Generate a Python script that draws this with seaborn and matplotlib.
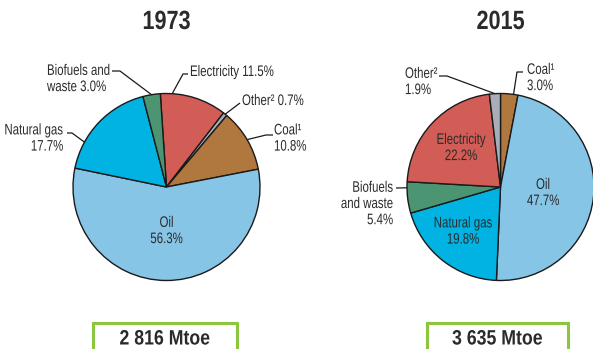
import numpy as np
import matplotlib
matplotlib.use("Agg")
import matplotlib.pyplot as plt
from matplotlib.patches import Rectangle
from matplotlib.patheffects import AbstractPathEffect
from matplotlib.transforms import Affine2D
import seaborn as sns

# Shares of world total final consumption by fuel (%)
fuels_1973 = ["Electricity", "Other²", "Coal¹", "Oil", "Natural gas", "Biofuels and waste"]
shares_1973 = [11.5, 0.7, 10.8, 56.3, 17.7, 3.0]

fuels_2015 = ["Coal¹", "Oil", "Natural gas", "Biofuels and waste", "Electricity", "Other²"]
shares_2015 = [3.0, 47.7, 19.8, 5.4, 22.2, 1.9]

years = ["1973", "2015"]
totals = ["2 816 Mtoe", "3 635 Mtoe"]

fuel_colors = {
    "Oil": "#86C5E6",
    "Natural gas": "#00B3E3",
    "Coal¹": "#B0773F",
    "Electricity": "#D25C56",
    "Biofuels and waste": "#4C9572",
    "Other²": "#A8AEB8",
}

sns.set_theme(style="white")
plt.rcParams["font.family"] = ["Liberation Sans", "DejaVu Sans"]

W, H = 593, 349
fig = plt.figure(figsize=(W / 100, H / 100), dpi=100)
ax = fig.add_axes([0, 0, 1, 1])
ax.set_xlim(0, W)
ax.set_ylim(0, H)
ax.set_aspect("equal")
ax.axis("off")
renderer = fig.canvas.get_renderer()

R = 93.5
centers = [(166.5, H - 187), (500.5, H - 187)]
starts = [93.8, 90.0]
TXT = "#2b2b2b"
FS = 11


class Condense(AbstractPathEffect):
    """Narrow the glyphs horizontally about a fixed display x."""

    def __init__(self, sx, x0):
        super().__init__()
        self.sx, self.x0 = sx, x0

    def draw_path(self, renderer, gc, tpath, affine, rgbFace=None):
        squeeze = Affine2D().translate(-self.x0, 0).scale(self.sx, 1).translate(self.x0, 0)
        renderer.draw_path(gc, tpath, affine + squeeze, rgbFace)


def text(x, y, s, ha="left", size=FS, weight="normal", sx=0.75, ls=1.2):
    t = ax.text(x, H - y, s, ha=ha, va="center", fontsize=size, color=TXT,
                fontweight=weight, linespacing=ls, multialignment=ha, zorder=6)
    if ha == "right":
        # anchor on the left so the condensed block ends at x
        w = t.get_window_extent(renderer).width
        x = x - sx * w
        t.set_x(x)
        t.set_ha("left")
    px = ax.transData.transform((x, 0))[0]
    t.set_path_effects([Condense(sx, px)])
    return t


def draw_pie(center, shares, fuels, start):
    ax.pie(shares, colors=[fuel_colors[f] for f in fuels], startangle=start,
           counterclock=False, center=center, radius=R, frame=True,
           wedgeprops=dict(edgecolor="#1a1a1a", linewidth=1.0))
    # wedge boundary angles, clockwise from the start angle
    return start - np.concatenate([[0], np.cumsum(shares)]) * 3.6


def leader(center, ang, pts):
    a = np.deg2rad(ang)
    ex, ey = center[0] + R * np.cos(a), center[1] + R * np.sin(a)
    xs = [p[0] for p in pts] + [ex]
    ys = [H - p[1] for p in pts] + [ey]
    ax.plot(xs, ys, color="#1a1a1a", lw=0.9, solid_capstyle="butt", zorder=5)


# ---- 1973 ----
c = centers[0]
b = draw_pie(c, shares_1973, fuels_1973, starts[0])
mid = lambda i: (b[i] + b[i + 1]) / 2
v = dict(zip(fuels_1973, shares_1973))

text(47, 79, f"Biofuels and\nwaste {v['Biofuels and waste']:.1f}%")
leader(c, mid(5), [(112, 71), (120, 71)])

text(190, 72, f"Electricity {v['Electricity']:.1f}%")
leader(c, b[0] - 7.3, [(188, 74), (183, 74)])

text(242, 101, f"Other² {v['Other²']:.1f}%")
leader(c, mid(1), [(240, 103)])

text(274, 138.5, f"Coal¹\n{v['Coal¹']:.1f}%")
leader(c, mid(2), [(273, 135), (266, 135)])

text(63, 138.5, f"Natural gas\n{v['Natural gas']:.1f}%", ha="right")
leader(c, b[4] - 17, [(67, 133), (72, 133)])

text(c[0], 231, f"Oil\n{v['Oil']:.1f}%", ha="center")

# ---- 2015 ----
c = centers[1]
b = draw_pie(c, shares_2015, fuels_2015, starts[1])
mid = lambda i: (b[i] + b[i + 1]) / 2
v = dict(zip(fuels_2015, shares_2015))

text(405, 82, f"Other²\n{v['Other²']:.1f}%")
leader(c, mid(5), [(439, 76), (447, 76)])

text(527, 78, f"Coal¹\n{v['Coal¹']:.1f}%")
leader(c, b[0] - 8, [(523, 72), (517, 72)])

text(393, 204, f"Biofuels\nand waste\n{v['Biofuels and waste']:.1f}%", ha="right")
leader(c, 180.5, [(396, 188)])

for name, (x, y) in {"Electricity": (461, 148), "Oil": (543, 193),
                     "Natural gas": (463, 231.5)}.items():
    text(x, y, f"{name}\n{v[name]:.1f}%", ha="center")

# ---- titles and totals ----
for (cx, cy), yr, tot, (bx0, bx1) in zip(centers, years, totals,
                                          [(93, 237), (427, 568)]):
    text(cx, 22, yr, ha="center", size=19, weight="bold", sx=0.82)
    ax.add_patch(Rectangle((bx0, -10), bx1 - bx0, H - 323 + 10, fill=False,
                           edgecolor="#8CC63F", lw=2.2, zorder=4))
    text((bx0 + bx1) / 2, 339, tot, ha="center", size=15, weight="bold", sx=0.85)

ax.set_xlim(0, W)
ax.set_ylim(0, H)
fig.savefig("out.png", dpi=100, facecolor="white")
